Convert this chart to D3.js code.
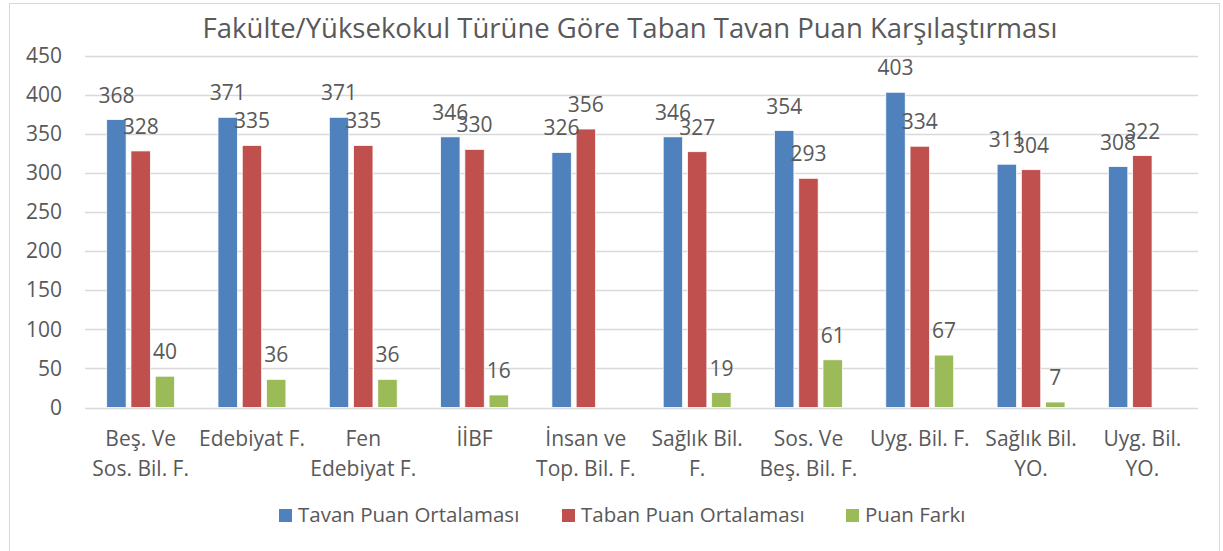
<!doctype html>
<html>
  <head>
    <meta charset="utf-8">
    <title>Fakülte/Yüksekokul Türüne Göre Taban Tavan Puan Karşılaştırması</title>
    <script src="https://cdn.jsdelivr.net/npm/d3@7"></script>
    <style>
      body { margin: 0; background: #fff; }
      text { font-family: "Open Sans", "Noto Sans", sans-serif; fill: #595959; }
    </style>
  </head>
  <body>
    <svg id="chart" width="1223" height="551"></svg>
    <script>
      // category labels (line breaks as in the original)
      var categories = [
        'Beş. Ve\nSos. Bil. F.', 'Edebiyat F.', 'Fen\nEdebiyat F.', 'İİBF', 'İnsan ve\nTop. Bil. F.',
        'Sağlık Bil.\nF.', 'Sos. Ve\nBeş. Bil. F.', 'Uyg. Bil. F.', 'Sağlık Bil.\nYO.', 'Uyg. Bil.\nYO.'
      ];
      var tavan = [368, 371, 371, 346, 326, 346, 354, 403, 311, 308];
      var taban = [328, 335, 335, 330, 356, 327, 293, 334, 304, 322];
      var fark = [40, 36, 36, 16, null, 19, 61, 67, 7, null];
      var seriesNames = ['Tavan Puan Ortalaması', 'Taban Puan Ortalaması', 'Puan Farkı'];
      var colors = ['#4F81BD', '#C0504D', '#9BBB59'];
      var yTicks = [0, 50, 100, 150, 200, 250, 300, 350, 400, 450];

      var plot = { left: 85, right: 1198, top: 55.5, bottom: 407.5 };

      var svg = d3.select('#chart');

      // chart border
      svg.append('rect')
        .attr('x', 9.5).attr('y', 3.5)
        .attr('width', 1210).attr('height', 600)
        .attr('fill', 'none')
        .attr('stroke', '#d9d9d9');

      svg.append('text')
        .attr('x', 630).attr('y', 38)
        .attr('text-anchor', 'middle')
        .style('font-size', '27.5px')
        .text('Fakülte/Yüksekokul Türüne Göre Taban Tavan Puan Karşılaştırması');

      var y = d3.scaleLinear().domain([0, 450]).range([plot.bottom, plot.top]);

      var x0 = d3.scaleBand()
        .domain(d3.range(categories.length))
        .range([plot.left, plot.right])
        .paddingInner(0.39)
        .paddingOuter(0.195);

      var x1 = d3.scaleBand()
        .domain([0, 1, 2])
        .range([0, x0.bandwidth()])
        .paddingInner(0.2);

      // gridlines
      svg.append('g').selectAll('line')
        .data(yTicks)
        .enter()
        .append('line')
        .attr('x1', plot.left).attr('x2', plot.right)
        .attr('y1', function (d) { return Math.round(y(d)) + 0.5; })
        .attr('y2', function (d) { return Math.round(y(d)) + 0.5; })
        .attr('stroke', '#d9d9d9')
        .attr('stroke-width', 1.5);

      // y axis labels
      var yAxis = d3.axisLeft(y).tickValues(yTicks).tickSize(0).tickPadding(0);
      var yG = svg.append('g')
        .attr('transform', 'translate(62,0)')
        .call(yAxis);
      yG.select('.domain').remove();
      yG.selectAll('text')
        .style('font-size', '21px')
        .attr('fill', '#595959')
        .attr('font-family', null);

      var seriesData = [tavan, taban, fark];

      var rows = categories.map(function (c, i) {
        return seriesData.map(function (s, k) {
          return { cat: i, series: k, value: s[i] };
        });
      });

      var groups = svg.append('g').selectAll('g')
        .data(rows)
        .enter()
        .append('g')
        .attr('transform', function (d, i) { return 'translate(' + x0(i) + ',0)'; });

      var valid = function (d) { return d.filter(function (v) { return v.value != null; }); };

      groups.selectAll('rect')
        .data(valid)
        .enter()
        .append('rect')
        .attr('x', function (d) { return x1(d.series); })
        .attr('width', x1.bandwidth())
        .attr('y', function (d) { return y(d.value); })
        .attr('height', function (d) { return y(0) - y(d.value); })
        .attr('fill', function (d) { return colors[d.series]; })
        .attr('stroke', '#fff')
        .attr('stroke-width', 0.75);

      groups.selectAll('text.val')
        .data(valid)
        .enter()
        .append('text')
        .attr('class', 'val')
        .attr('x', function (d) { return x1(d.series) + x1.bandwidth() / 2; })
        .attr('y', function (d) { return y(d.value) - 17; })
        .attr('text-anchor', 'middle')
        .style('font-size', '21px')
        .text(function (d) { return d.value; });

      // category labels
      var catG = svg.append('g').selectAll('text')
        .data(categories)
        .enter()
        .append('text')
        .attr('text-anchor', 'middle')
        .style('font-size', '21px')
        .attr('transform', function (d, i) { return 'translate(' + (x0(i) + x0.bandwidth() / 2) + ',446)'; });

      catG.selectAll('tspan')
        .data(function (d) { return d.split('\n'); })
        .enter()
        .append('tspan')
        .attr('x', 0)
        .attr('dy', function (d, i) { return i === 0 ? 0 : 30; })
        .text(function (d) { return d; });

      // legend
      var legendX = [279, 562, 846];
      var legend = svg.append('g').selectAll('g')
        .data(seriesNames)
        .enter()
        .append('g')
        .attr('transform', function (d, i) { return 'translate(' + legendX[i] + ',509)'; });

      legend.append('rect')
        .attr('width', 13).attr('height', 13)
        .attr('fill', function (d, i) { return colors[i]; });

      legend.append('text')
        .attr('x', 19).attr('y', 13)
        .style('font-size', '20.5px')
        .text(function (d) { return d; });
    </script>
  </body>
</html>
